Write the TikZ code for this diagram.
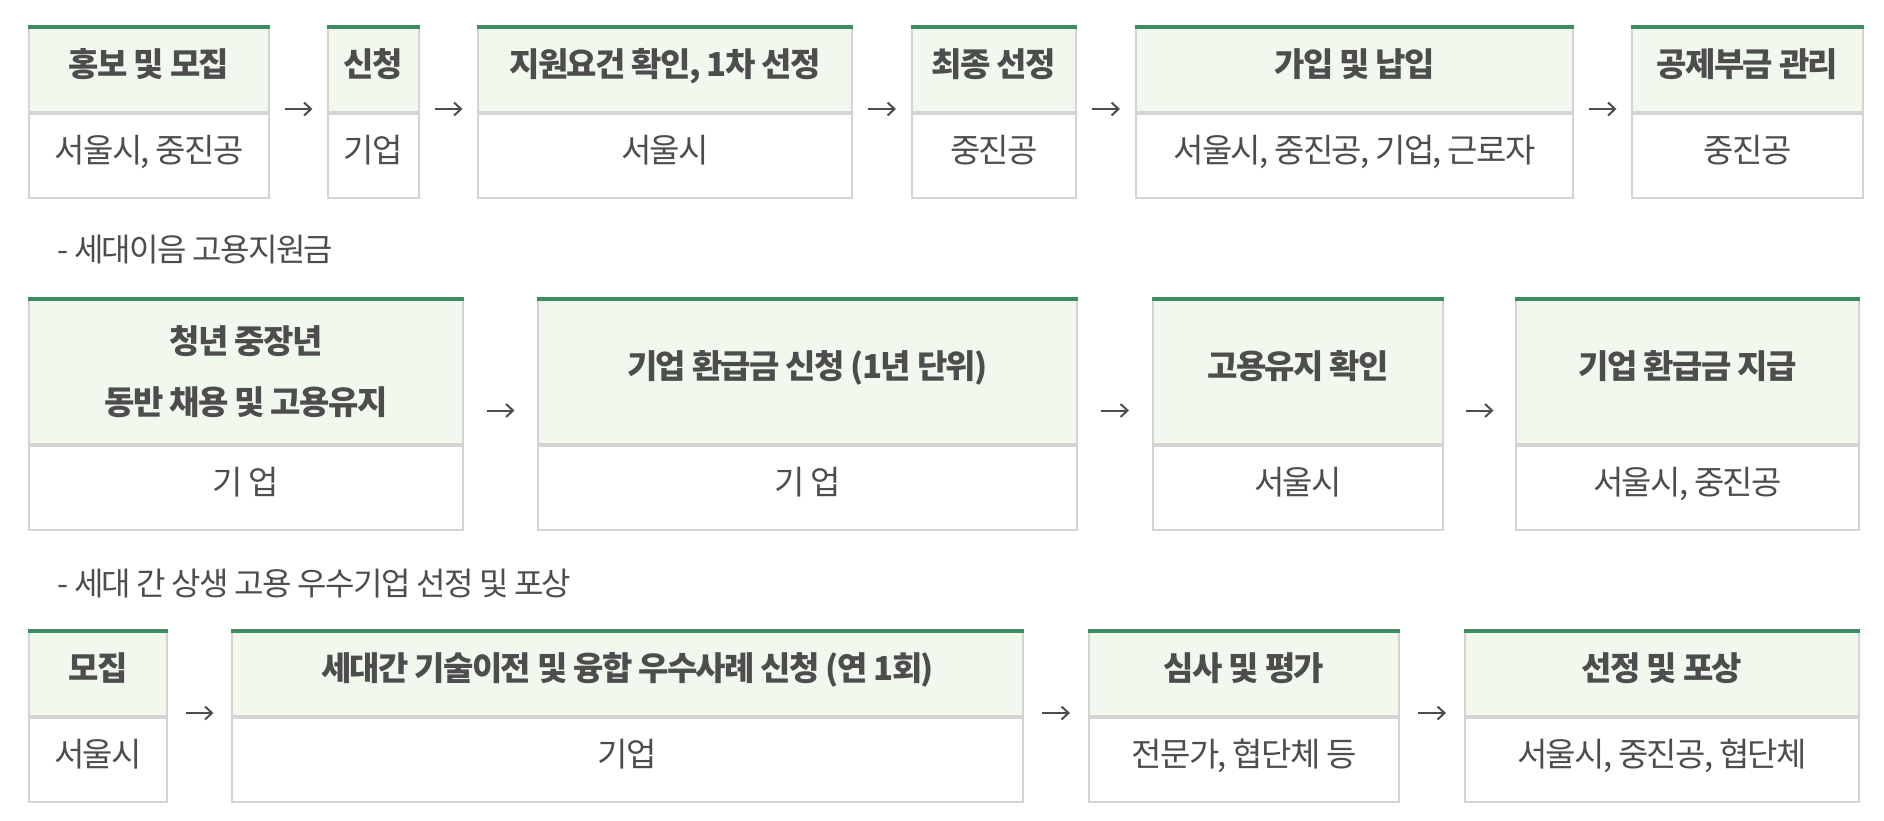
\documentclass[tikz,border=0pt]{standalone}
\usepackage{fontspec}
\setmainfont{Noto Sans CJK KR}[LetterSpace=-5]
\usetikzlibrary{positioning,arrows.meta,calc}
\definecolor{linegreen}{HTML}{3D8C62}
\definecolor{headfill}{HTML}{F1F8EE}
\definecolor{boxgray}{HTML}{D4D4D4}
\definecolor{txtgray}{HTML}{4D4D4D}
\tikzset{
  head/.style={rectangle, draw=boxgray, fill=headfill, line width=1pt, inner sep=0pt,
               minimum height=42pt, align=center, text=txtgray,
               text height=10.5pt, text depth=4pt,
               font=\fontsize{16.5pt}{30.5pt}\selectfont\bfseries,
               append after command={(\tikzlastnode.north west) edge[topline] (\tikzlastnode.north east)}},
  twoline/.style={text height=, text depth=},
  body/.style={rectangle, draw=boxgray, fill=white, line width=1pt, inner sep=0pt,
               minimum height=42pt, text=txtgray, text height=10.5pt, text depth=4pt,
               font=\fontsize{16.5pt}{20pt}\selectfont},
  topline/.style={draw=linegreen, line width=2pt},
  flow/.style={-{Straight Barb[length=3.5pt,width=6.5pt]}, draw=txtgray, line width=1pt,
               shorten <=#1, shorten >=#1, transform canvas={yshift=2pt}},
  title/.style={anchor=west, inner sep=0pt, text=txtgray, font=\fontsize{16pt}{20pt}\selectfont},
}

\begin{document}
\begin{tikzpicture}[x=0.5pt, y=-0.5pt]
  \useasboundingbox (0,0) rectangle (1884,820);

  % row 1
  \node[head, minimum width=120pt, anchor=north west] (head11) at (28,27) {홍보 및 모집};
  \node[body, minimum width=120pt, below=0pt of head11] (body11) {서울시, 중진공};
  \node[head, minimum width=45.5pt, right=28.5pt of head11] (head12) {신청};
  \node[body, minimum width=45.5pt, below=0pt of head12] (body12) {기업};
  \node[head, minimum width=187pt, right=28.5pt of head12] (head13) {지원요건 확인, 1차 선정};
  \node[body, minimum width=187pt, below=0pt of head13] (body13) {서울시};
  \node[head, minimum width=82pt, right=29pt of head13] (head14) {최종 선정};
  \node[body, minimum width=82pt, below=0pt of head14] (body14) {중진공};
  \node[head, minimum width=218.5pt, right=29pt of head14] (head15) {가입 및 납입};
  \node[body, minimum width=218.5pt, below=0pt of head15] (body15) {서울시, 중진공, 기업, 근로자};
  \node[head, minimum width=115.5pt, right=28.5pt of head15] (head16) {공제부금 관리};
  \node[body, minimum width=115.5pt, below=0pt of head16] (body16) {중진공};

  % row 2
  \node[title] (title2) at (57,250) {- 세대이음 고용지원금};
  \node[head, twoline, minimum width=217pt, minimum height=72pt, anchor=north west] (head21) at (28,298.5) {청년 중장년\\동반 채용 및 고용유지};
  \node[body, minimum width=217pt, below=0pt of head21] (body21) {기 업};
  \node[head, minimum width=269.5pt, minimum height=72pt, right=36.5pt of head21] (head22) {기업 환급금 신청 (1년 단위)};
  \node[body, minimum width=269.5pt, below=0pt of head22] (body22) {기 업};
  \node[head, minimum width=145pt, minimum height=72pt, right=37pt of head22] (head23) {고용유지 확인};
  \node[body, minimum width=145pt, below=0pt of head23] (body23) {서울시};
  \node[head, minimum width=171.5pt, minimum height=72pt, right=35.5pt of head23] (head24) {기업 환급금 지급};
  \node[body, minimum width=171.5pt, below=0pt of head24] (body24) {서울시, 중진공};

  % row 3
  \node[title] (title3) at (57,584) {- 세대 간 상생 고용 우수기업 선정 및 포상};
  \node[head, minimum width=69pt, anchor=north west] (head31) at (28,631) {모집};
  \node[body, minimum width=69pt, below=0pt of head31] (body31) {서울시};
  \node[head, minimum width=395.5pt, right=31.5pt of head31] (head32) {세대간 기술이전 및 융합 우수사례 신청 (연 1회)};
  \node[body, minimum width=395.5pt, below=0pt of head32] (body32) {기업};
  \node[head, minimum width=155pt, right=32pt of head32] (head33) {심사 및 평가};
  \node[body, minimum width=155pt, below=0pt of head33] (body33) {전문가, 협단체 등};
  \node[head, minimum width=197pt, right=32pt of head33] (head34) {선정 및 포상};
  \node[body, minimum width=197pt, below=0pt of head34] (body34) {서울시, 중진공, 협단체};

  % arrows between steps
  \foreach \a/\b/\s in {11/12/7.25pt, 12/13/7.25pt, 13/14/7.5pt, 14/15/7.5pt, 15/16/7.25pt,
                        21/22/11.25pt, 22/23/11.5pt, 23/24/10.75pt,
                        31/32/8.75pt, 32/33/9pt, 33/34/9pt}
    \draw[flow=\s] ($(head\a.north east)!.5!(body\a.south east)$) -- ($(head\b.north west)!.5!(body\b.south west)$);
\end{tikzpicture}
\end{document}
